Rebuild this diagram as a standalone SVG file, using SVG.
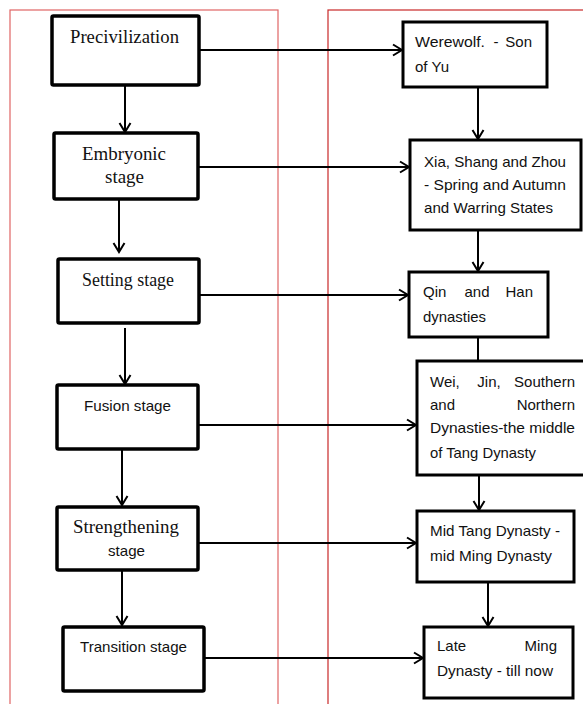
<svg xmlns="http://www.w3.org/2000/svg" width="583" height="704" viewBox="0 0 583 704">
<defs>
<marker id="arr" markerUnits="userSpaceOnUse" markerWidth="14" markerHeight="14" refX="11" refY="7" orient="auto">
<path d="M2,1.5 L11,7 L2,12.5" fill="none" stroke="#000" stroke-width="2"/>
</marker>
<style>
.frameL{fill:none;stroke:#e06464;stroke-width:1.2}
.frameR{fill:none;stroke:#c82828;stroke-width:1.2}
.box{fill:#fff;stroke:#000;stroke-width:3.5}
.boxr{fill:#fff;stroke:#000;stroke-width:3}
.ser{font-family:"Liberation Serif","DejaVu Serif",serif;font-size:18px;fill:#111}
.san{font-family:"Liberation Sans","DejaVu Sans",sans-serif;font-size:15px;fill:#111}
.ln{fill:none;stroke:#000;stroke-width:2}
</style>
</defs>
<rect width="583" height="704" fill="#fff"/>
<rect class="frameL" x="10" y="10" width="268" height="710"/>
<rect class="frameR" x="328" y="10" width="270" height="710"/>

<g id="connectors">
<line class="ln" x1="199" y1="50" x2="402" y2="50" marker-end="url(#arr)"/>
<line class="ln" x1="198" y1="167" x2="409" y2="167" marker-end="url(#arr)"/>
<line class="ln" x1="199" y1="295" x2="408" y2="295" marker-end="url(#arr)"/>
<line class="ln" x1="198" y1="425" x2="416" y2="425" marker-end="url(#arr)"/>
<line class="ln" x1="198" y1="543" x2="416" y2="543" marker-end="url(#arr)"/>
<line class="ln" x1="200" y1="658" x2="423" y2="658" marker-end="url(#arr)"/>
<line class="ln" x1="125" y1="85" x2="125" y2="132" marker-end="url(#arr)"/>
<line class="ln" x1="119" y1="199" x2="119" y2="252" marker-end="url(#arr)"/>
<line class="ln" x1="125" y1="328" x2="125" y2="384" marker-end="url(#arr)"/>
<line class="ln" x1="122" y1="449" x2="122" y2="505" marker-end="url(#arr)"/>
<line class="ln" x1="122" y1="570" x2="122" y2="625" marker-end="url(#arr)"/>
<line class="ln" x1="478" y1="87" x2="478" y2="139" marker-end="url(#arr)"/>
<line class="ln" x1="478" y1="230" x2="478" y2="271" marker-end="url(#arr)"/>
<line class="ln" x1="478" y1="337" x2="478" y2="361"/>
<line class="ln" x1="479" y1="475" x2="479" y2="510" marker-end="url(#arr)"/>
<line class="ln" x1="488" y1="582" x2="488" y2="626" marker-end="url(#arr)"/>
</g>

<g id="precivilization">
<rect class="box" x="52" y="16" width="147" height="69" rx="1.5"/>
<text class="ser" x="70" y="43" textLength="109" lengthAdjust="spacingAndGlyphs">Precivilization</text>
</g>
<g id="embryonic">
<rect class="box" x="54" y="133" width="144" height="66" rx="1.5"/>
<text class="ser" x="82" y="160" textLength="84" lengthAdjust="spacingAndGlyphs">Embryonic</text>
<text class="ser" x="105" y="183" textLength="39" lengthAdjust="spacingAndGlyphs">stage</text>
</g>
<g id="setting">
<rect class="box" x="58" y="259" width="141" height="64" rx="1.5"/>
<text class="ser" x="82" y="286" textLength="92" lengthAdjust="spacingAndGlyphs">Setting stage</text>
</g>
<g id="fusion">
<rect class="box" x="57" y="385" width="141" height="64" rx="1.5"/>
<text class="san" x="84" y="411" textLength="87" lengthAdjust="spacingAndGlyphs">Fusion stage</text>
</g>
<g id="strengthening">
<rect class="box" x="57" y="507" width="141" height="63" rx="1.5"/>
<text class="ser" x="73" y="533" textLength="106" lengthAdjust="spacingAndGlyphs">Strengthening</text>
<text class="san" x="108" y="556" textLength="37" lengthAdjust="spacingAndGlyphs">stage</text>
</g>
<g id="transition">
<rect class="box" x="63" y="627" width="141" height="64" rx="1.5"/>
<text class="san" x="80" y="652" textLength="107" lengthAdjust="spacingAndGlyphs">Transition stage</text>
</g>

<g id="werewolf">
<rect class="boxr" x="403" y="22" width="144" height="65"/>
<text class="san" x="415" y="47" textLength="70" lengthAdjust="spacingAndGlyphs">Werewolf.</text>
<text class="san" x="496" y="47" text-anchor="middle">-</text>
<text class="san" x="532" y="47" text-anchor="end">Son</text>
<text class="san" x="415" y="72" textLength="34" lengthAdjust="spacingAndGlyphs">of Yu</text>
</g>
<g id="xia">
<rect class="boxr" x="410" y="140" width="171" height="90"/>
<text class="san" x="424" y="167" textLength="142" lengthAdjust="spacingAndGlyphs">Xia, Shang  and Zhou</text>
<text class="san" x="424" y="190" textLength="142" lengthAdjust="spacingAndGlyphs">- Spring and Autumn</text>
<text class="san" x="424" y="213" textLength="129" lengthAdjust="spacingAndGlyphs">and Warring States</text>
</g>
<g id="qinhan">
<rect class="boxr" x="409" y="272" width="139" height="65"/>
<text class="san" x="423" y="297">Qin</text>
<text class="san" x="477" y="297" text-anchor="middle">and</text>
<text class="san" x="533" y="297" text-anchor="end">Han</text>
<text class="san" x="423" y="322" textLength="63" lengthAdjust="spacingAndGlyphs">dynasties</text>
</g>
<g id="weijin">
<rect class="boxr" x="417" y="361" width="175" height="114"/>
<text class="san" x="430" y="387">Wei,</text>
<text class="san" x="489" y="387" text-anchor="middle">Jin,</text>
<text class="san" x="575" y="387" text-anchor="end">Southern</text>
<text class="san" x="430" y="410">and</text>
<text class="san" x="575" y="410" text-anchor="end">Northern</text>
<text class="san" x="430" y="433" textLength="145" lengthAdjust="spacingAndGlyphs">Dynasties-the middle</text>
<text class="san" x="430" y="458" textLength="106" lengthAdjust="spacingAndGlyphs">of Tang Dynasty</text>
</g>
<g id="midtang">
<rect class="boxr" x="417" y="511" width="157" height="71"/>
<text class="san" x="430" y="536" textLength="130" lengthAdjust="spacingAndGlyphs">Mid Tang Dynasty -</text>
<text class="san" x="430" y="561" textLength="122" lengthAdjust="spacingAndGlyphs">mid Ming Dynasty</text>
</g>
<g id="lateming">
<rect class="boxr" x="424" y="627" width="149" height="71"/>
<text class="san" x="437" y="651">Late</text>
<text class="san" x="557" y="651" text-anchor="end">Ming</text>
<text class="san" x="437" y="676" textLength="116" lengthAdjust="spacingAndGlyphs">Dynasty - till now</text>
</g>
</svg>
